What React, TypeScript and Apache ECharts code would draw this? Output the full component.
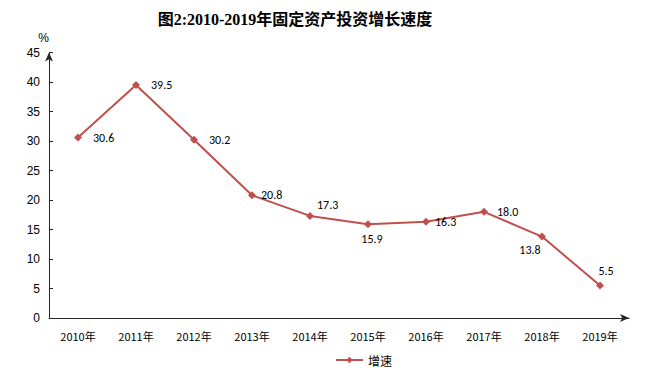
import React, { useEffect, useRef } from "react";
import * as echarts from "echarts";

const years = ["2010年", "2011年", "2012年", "2013年", "2014年", "2015年", "2016年", "2017年", "2018年", "2019年"];
const growth = [30.6, 39.5, 30.2, 20.8, 17.3, 15.9, 16.3, 18.0, 13.8, 5.5];
const seriesName = "增速";
const titleText = "图2:2010-2019年固定资产投资增长速度";

// label placement per point (style only)
const labelPlacement: any[] = [
  { position: "right", offset: [6, 1] },
  { position: "right", offset: [6, 0] },
  { position: "right", offset: [6, 0] },
  { position: "right", offset: [0, 0] },
  { position: "right", offset: [-2, -11] },
  { position: "bottom", offset: [4, 0] },
  { position: "right", offset: [0, 0] },
  { position: "right", offset: [4, 0] },
  { position: "bottom", offset: [-12, -2] },
  { position: "top", offset: [6, 0] },
];

export default function App() {
  const ref = useRef<HTMLDivElement>(null);
  useEffect(() => {
    if (!ref.current) return;
    const chart = echarts.init(ref.current, null, { renderer: "svg" });
    const color = "#C0504D";
    chart.setOption({
      animation: false,
      backgroundColor: "#ffffff",
      title: {
        text: titleText,
        left: 290,
        textAlign: "center",
        top: 6,
        textStyle: {
          fontFamily: "'Liberation Serif', 'Noto Sans CJK SC', serif",
          fontWeight: "bold",
          fontSize: 16,
          color: "#000",
        },
      },
      legend: {
        data: [seriesName],
        bottom: 6,
        left: 330,
        itemWidth: 27,
        itemHeight: 8,
        itemGap: 5,
        textStyle: {
          fontFamily: "SimSun, 'Noto Sans CJK SC', sans-serif",
          fontSize: 12,
          color: "#000",
        },
      },
      grid: { left: 49, right: 34, top: 52.5, bottom: 59, containLabel: false },
      xAxis: {
        type: "category",
        data: years,
        boundaryGap: true,
        axisLine: {
          show: true,
          symbol: ["none", "arrow"],
          symbolSize: [6, 9],
          lineStyle: { color: "#262626", width: 1 },
        },
        axisTick: { show: false },
        axisLabel: {
          margin: 12,
          color: "#000",
          fontSize: 11,
          fontFamily: "SimSun, 'Noto Sans CJK SC', sans-serif",
        },
      },
      yAxis: {
        type: "value",
        min: 0,
        max: 45,
        interval: 5,
        name: "%",
        nameLocation: "end",
        nameGap: 9,
        nameTextStyle: {
          color: "#000",
          fontSize: 12,
          fontFamily: "Arial, 'Liberation Sans', sans-serif",
          align: "right",
          padding: [0, 0, 0, 0],
        },
        splitLine: { show: false },
        axisLine: {
          show: true,
          symbol: ["none", "arrow"],
          symbolSize: [6, 9],
          lineStyle: { color: "#262626", width: 1 },
        },
        axisTick: { show: true, inside: true, length: 4, lineStyle: { color: "#262626" } },
        axisLabel: {
          margin: 9,
          color: "#000",
          fontSize: 12,
          fontFamily: "Arial, 'Liberation Sans', sans-serif",
        },
      },
      series: [
        {
          name: seriesName,
          type: "line",
          data: growth.map((v, i) => ({
            value: v,
            label: { ...labelPlacement[i] },
          })),
          symbol: "diamond",
          symbolSize: 8,
          itemStyle: { color },
          lineStyle: { color, width: 2 },
          label: {
            show: true,
            color: "#000",
            fontSize: 12,
            fontFamily: "Calibri, Carlito, 'Open Sans', sans-serif",
            formatter: (p: any) => Number(p.value).toFixed(1),
          },
        },
      ],
    });
    return () => chart.dispose();
  }, []);
  return <div ref={ref} style={{ width: 663, height: 377, margin: -8 }} />;
}
